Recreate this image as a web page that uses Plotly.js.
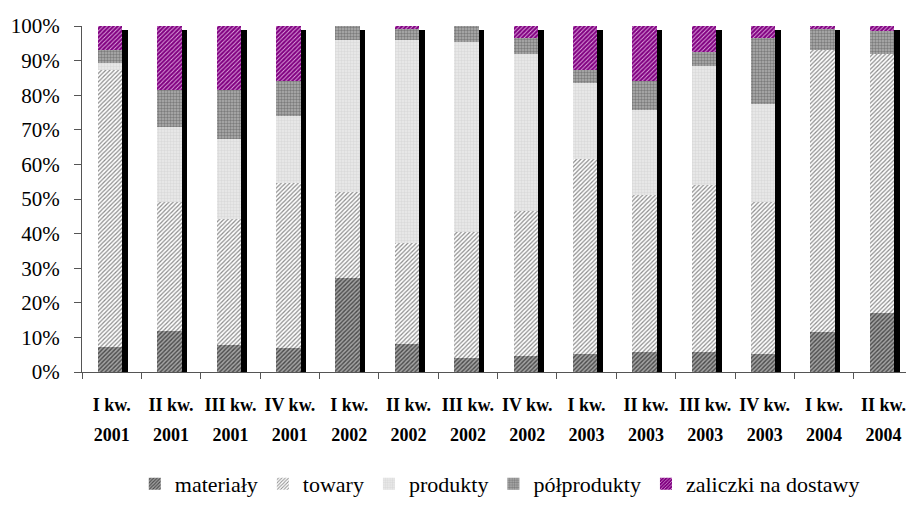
<!DOCTYPE html>
<html>
<head>
<meta charset="utf-8">
<script src="https://cdn.plot.ly/plotly-3.0.1.min.js"></script>
<style>html,body{margin:0;padding:0;background:#fff;}#chart{width:906px;height:505px;}</style>
</head>
<body>
<div id="chart"></div>
<script>
const categories = ['I kw. 2001','II kw. 2001','III kw. 2001','IV kw. 2001',
  'I kw. 2002','II kw. 2002','III kw. 2002','IV kw. 2002',
  'I kw. 2003','II kw. 2003','III kw. 2003','IV kw. 2003',
  'I kw. 2004','II kw. 2004'];
const quarterLabels = ['I kw.','II kw.','III kw.','IV kw.','I kw.','II kw.','III kw.','IV kw.','I kw.','II kw.','III kw.','IV kw.','I kw.','II kw.'];
const yearLabels = ['2001','2001','2001','2001','2002','2002','2002','2002','2003','2003','2003','2003','2004','2004'];

const materialy   = [7.1, 11.9, 7.7, 6.8, 27.3, 8.2, 4.0, 4.5, 5.1, 5.7, 5.7, 5.1, 11.6, 17.0];
const towary      = [80.1, 37.2, 36.6, 47.8, 24.7, 29.0, 36.6, 42.1, 56.5, 45.6, 48.3, 44.0, 81.6, 74.8];
const produkty    = [2.0, 21.6, 23.1, 19.3, 44.0, 58.8, 54.9, 45.4, 22.0, 24.4, 34.4, 28.5, 0.0, 0.0];
const polprodukty = [4.0, 10.8, 14.1, 10.2, 4.0, 3.1, 4.5, 4.6, 3.6, 8.4, 4.2, 19.0, 5.9, 6.8];
const zaliczki    = [6.8, 18.5, 18.5, 15.9, 0.0, 0.9, 0.0, 3.4, 12.8, 15.9, 7.4, 3.4, 0.9, 1.4];

const seriesNames = ['materiały','towary','produkty','półprodukty','zaliczki na dostawy'];
const seriesData = [materialy, towary, produkty, polprodukty, zaliczki];
const patterns = [
  {shape:'/', fgcolor:'#4a4a4a', bgcolor:'#a4a4a4', size:3, solidity:0.45},
  {shape:'/', fgcolor:'#8c8c8c', bgcolor:'#ffffff', size:3, solidity:0.4},
  {shape:'.', fgcolor:'#dadada', bgcolor:'#ececec', size:3, solidity:0.5},
  {shape:'.', fgcolor:'#7c7c7c', bgcolor:'#b0b0b0', size:3, solidity:0.5},
  {shape:'/', fgcolor:'#e0a8e0', bgcolor:'#800080', size:3, solidity:0.3}
];
const colors = ['#4a4a4a','#8c8c8c','#dadada','#7c7c7c','#e0a8e0'];

const BW = 0.412, BOFF = -0.231, SW = 0.093;
const traces = seriesData.map((vals, i) => ({
  type:'bar', name: seriesNames[i], x: categories, y: vals,
  width: BW, offset: BOFF,
  marker: {color: colors[i], line:{width:0}, pattern: patterns[i]},
  hoverinfo:'name+y'
}));
const totals = categories.map((c, j) => seriesData.reduce((s, arr) => s + arr[j], 0));
traces.push({
  type:'bar', x: categories, y: totals, xaxis:'x2', yaxis:'y2',
  width: SW, offset: BOFF + BW, marker:{color:'#000000', line:{width:0}},
  showlegend:false, hoverinfo:'skip'
});

const serif = 'Liberation Serif';
const layout = {
  width:906, height:505,
  margin:{l:82, r:0, t:26, b:127},
  paper_bgcolor:'#ffffff', plot_bgcolor:'#ffffff',
  font:{family:serif, color:'#000'},
  barmode:'stack', bargap:0,
  showlegend:true,
  xaxis:{type:'category', range:[-0.5, 13.38], tickson:'boundaries',
    tickmode:'array', tickvals: categories, ticktext: quarterLabels, tickangle:0,
    ticks:'outside', ticklen:6, tickcolor:'#555', tickwidth:1,
    showline:true, linecolor:'#555', linewidth:1, showgrid:false, zeroline:false,
    tickfont:{family:serif, size:18, color:'#000', weight:'bold'}, ticklabelstandoff:16,
    fixedrange:true},
  xaxis2:{type:'category', overlaying:'x', anchor:'y', side:'bottom', range:[-0.5, 13.38],
    tickmode:'array', tickvals: categories, ticktext: yearLabels, tickangle:0,
    ticks:'', showline:false, showgrid:false, zeroline:false,
    tickfont:{family:serif, size:18, color:'#000', weight:'bold'}, ticklabelstandoff:50,
    fixedrange:true},
  yaxis:{range:[0,100], tickmode:'linear', tick0:0, dtick:10,
    ticksuffix:'%', ticks:'outside', ticklen:7, tickcolor:'#555', tickwidth:1,
    showline:true, linecolor:'#555', linewidth:1, showgrid:false, zeroline:false,
    tickfont:{family:serif, size:21, color:'#000'}, ticklabelstandoff:10,
    fixedrange:true},
  yaxis2:{overlaying:'y', anchor:'x', range:[0,101.15], visible:false, fixedrange:true},
  legend:{orientation:'h', x:0.507, xanchor:'center', y:-0.324, yanchor:'middle',
    font:{family:serif, size:22, color:'#000'}, traceorder:'normal', itemwidth:30,
    bgcolor:'rgba(0,0,0,0)'}
};
Plotly.newPlot('chart', traces, layout, {displayModeBar:false, staticPlot:true});
</script>
</body>
</html>
